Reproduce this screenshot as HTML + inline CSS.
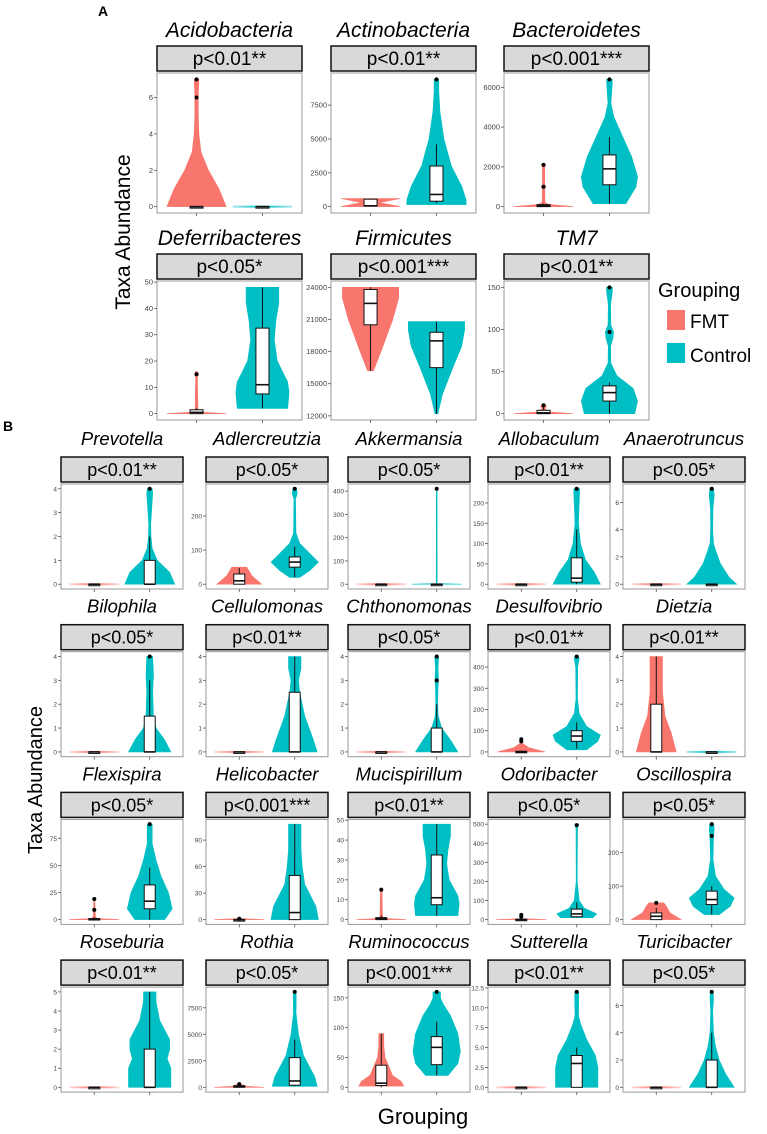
<!DOCTYPE html>
<html><head><meta charset="utf-8"><style>
html,body{margin:0;padding:0;background:#fff;}
svg{display:block;font-family:"Liberation Sans",sans-serif;}
</style></head><body>
<svg id="fig" width="767" height="1134" viewBox="0 0 767 1134" xmlns="http://www.w3.org/2000/svg">
<defs>
<linearGradient id="gF" x1="0" x2="1"><stop offset="0" stop-color="#F8766D" stop-opacity="0.25"/><stop offset="0.5" stop-color="#F8766D"/><stop offset="1" stop-color="#F8766D" stop-opacity="0.25"/></linearGradient>
<linearGradient id="gC" x1="0" x2="1"><stop offset="0" stop-color="#00BFC4" stop-opacity="0.35"/><stop offset="0.5" stop-color="#00BFC4"/><stop offset="1" stop-color="#00BFC4" stop-opacity="0.35"/></linearGradient>
</defs>
<text x="98" y="16" font-size="14" font-weight="bold">A</text>
<text x="3" y="431" font-size="14" font-weight="bold">B</text>
<text transform="translate(130,232) rotate(-90)" text-anchor="middle" font-size="21">Taxa Abundance</text>
<text transform="translate(42,780) rotate(-90)" text-anchor="middle" font-size="20">Taxa Abundance</text>
<text x="423" y="1124" text-anchor="middle" font-size="22">Grouping</text>
<g>
<text x="658" y="297" font-size="20">Grouping</text>
<rect x="667" y="310" width="18" height="20" fill="#F8766D"/>
<text x="690" y="328" font-size="19">FMT</text>
<rect x="667" y="343" width="18" height="20" fill="#00BFC4"/>
<text x="690" y="362" font-size="19">Control</text>
</g>
</svg>
<script>
const names=["Acidobacteria","Actinobacteria","Bacteroidetes","Deferribacteres","Firmicutes","TM7",
"Prevotella","Adlercreutzia","Akkermansia","Allobaculum","Anaerotruncus",
"Bilophila","Cellulomonas","Chthonomonas","Desulfovibrio","Dietzia",
"Flexispira","Helicobacter","Mucispirillum","Odoribacter","Oscillospira",
"Roseburia","Rothia","Ruminococcus","Sutterella","Turicibacter"];
const pvals=["p<0.01**","p<0.01**","p<0.001***","p<0.05*","p<0.001***","p<0.01**",
"p<0.01**","p<0.05*","p<0.05*","p<0.01**","p<0.05*",
"p<0.05*","p<0.01**","p<0.05*","p<0.01**","p<0.01**",
"p<0.05*","p<0.001***","p<0.01**","p<0.05*","p<0.05*",
"p<0.01**","p<0.05*","p<0.001***","p<0.01**","p<0.05*"];
const yRange=[[0,7],[0,9400],[0,6400],[0,48],[12200,24000],[0,150],
[0,4],[0,280],[0,410],[0,235],[0,7],
[0,4],[0,4],[0,4],[0,450],[0,4],
[0,88],[0,108],[0,48],[0,500],[0,285],
[0,5],[0,9000],[0,160],[0,12],[0,7]];
const ticks=[[0,2,4,6],[0,2500,5000,7500],[0,2000,4000,6000],[0,10,20,30,40,50],[12000,15000,18000,21000,24000],[0,50,100,150],
[0,1,2,3,4],[0,100,200],[0,100,200,300,400],[0,50,100,150,200],[0,2,4,6],
[0,1,2,3,4],[0,1,2,3,4],[0,1,2,3,4],[0,100,200,300,400],[0,1,2,3,4],
[0,25,50,75],[0,30,60,90],[0,10,20,30,40,50],[0,100,200,300,400,500],[0,100,200],
[0,1,2,3,4,5],[0,2500,5000,7500],[0,50,100,150],[0,2.5,5,7.5,10,12.5],[0,2,4,6]];
const tickLabels=ticks.map(t=>t.map(v=>(t.includes(2.5)?v.toFixed(1):String(v))));
const Z=[[0,1]];
const fmtViolin=[
[[0,1],[1,0.75],[2,0.4],[3,0.15],[4,0.08],[5,0.06],[6,0.06],[7,0.08]],
[[0,1],[300,0.3],[600,1]],
[[0,1],[100,0.2],[200,0.05],[900,0.04],[1000,0.08],[1100,0.04],[2050,0.04],[2100,0.08],[2150,0.04]],
[[0,1],[0.6,0.1],[1.5,0.05],[14,0.03],[15,0.07],[16,0.03]],
[[16200,0.1],[18000,0.35],[21000,0.75],[23000,0.95],[24000,0.95]],
[[0,1],[2,0.2],[6,0.05],[9,0.1],[11,0.05]],
Z,[[0,0.9],[25,0.5],[50,0.3]],Z,Z,Z,
Z,Z,Z,[[0,0.95],[20,0.3],[40,0.05],[55,0.05],[62,0.03]],[[0,0.8],[0.8,0.6],[1.5,0.35],[2.5,0.25],[4,0.25]],
[[0,1],[1,0.1],[3,0.04],[18,0.02],[19,0.05],[20,0.02]],[[0,1],[1,0.1],[2,0.02]],[[0,1],[0.6,0.1],[1.5,0.05],[14,0.03],[15,0.07],[16,0.03]],[[0,1],[5,0.05],[20,0.02]],[[0,1],[20,0.55],[40,0.4],[50,0.3]],
Z,[[0,1],[100,0.3],[300,0.05]],[[2,0.9],[10,0.8],[20,0.45],[35,0.3],[50,0.15],[70,0.1],[90,0.1]],Z,Z];
const ctrlViolin=[
Z,
[[150,1],[500,1],[1500,0.85],[3000,0.5],[5000,0.25],[7000,0.12],[8500,0.08],[9400,0.08]],
[[150,0.55],[1000,0.9],[1500,0.95],[2500,0.75],[3500,0.45],[4500,0.15],[5200,0.05],[5800,0.08],[6400,0.1]],
[[2,0.85],[8,0.9],[12,0.85],[20,0.5],[28,0.4],[35,0.45],[42,0.55],[48,0.55]],
[[12200,0.05],[14000,0.2],[16500,0.55],[18500,0.85],[20000,0.95],[20800,0.95]],
[[0,0.85],[15,0.95],[30,0.8],[45,0.25],[60,0.05],[80,0.04],[90,0.12],[97,0.14],[105,0.05],[130,0.04],[145,0.1],[150,0.1]],
[[0,1],[0.5,0.8],[1,0.3],[1.5,0.1],[2,0.05],[2.5,0.04],[3,0.07],[3.5,0.1],[3.8,0.12],[4,0.1]],
[[20,0.2],[40,0.6],[65,0.95],[90,0.6],[120,0.2],[150,0.05],[250,0.03],[265,0.1],[280,0.08]],
[[0,1],[3,0.02],[410,0.015]],
[[0,0.95],[30,0.7],[60,0.35],[100,0.15],[150,0.07],[200,0.1],[235,0.12]],
[[0,1],[0.5,0.7],[1.5,0.35],[2.5,0.15],[3,0.07],[4,0.04],[5.5,0.05],[6.5,0.1],[7,0.08]],
[[0,0.85],[0.5,0.6],[1,0.25],[1.5,0.15],[2.5,0.12],[3.2,0.15],[4,0.12]],
[[0,0.9],[0.5,0.75],[1.5,0.4],[2.5,0.2],[3,0.15],[3.5,0.25],[4,0.25]],
[[0,0.85],[0.5,0.55],[1,0.2],[1.5,0.06],[2,0.04],[2.7,0.05],[3,0.07],[3.5,0.05],[4,0.08]],
[[10,0.4],[50,0.85],[80,0.95],[120,0.4],[180,0.1],[250,0.03],[400,0.04],[440,0.1],[450,0.08]],
Z,
[[0,0.6],[10,0.9],[25,0.75],[40,0.45],[55,0.25],[70,0.1],[80,0.1],[88,0.1]],
[[0,0.95],[15,0.85],[40,0.4],[60,0.3],[80,0.25],[108,0.25]],
[[2,0.85],[8,0.9],[12,0.85],[20,0.5],[28,0.4],[35,0.45],[42,0.55],[48,0.55]],
[[10,0.65],[30,0.8],[60,0.3],[100,0.1],[200,0.02],[480,0.03],[500,0.08]],
[[15,0.3],[40,0.75],[65,0.9],[90,0.5],[130,0.15],[180,0.05],[240,0.07],[270,0.1],[285,0.08]],
[[0,0.85],[1,0.85],[1.5,0.7],[2,0.8],[2.5,0.8],[3.5,0.4],[4.5,0.25],[5,0.25]],
[[100,0.9],[1000,0.8],[3000,0.35],[5000,0.15],[7000,0.05],[8500,0.06],[9000,0.05]],
[[20,0.45],[40,0.85],[60,0.95],[90,0.85],[120,0.55],[140,0.25],[150,0.15],[160,0.15]],
[[0,0.85],[2.5,0.85],[4,0.75],[6,0.4],[8,0.15],[9,0.07],[11,0.08],[12,0.08]],
[[0,0.9],[1,0.55],[2,0.3],[3,0.15],[4,0.07],[5.5,0.04],[6.5,0.07],[7,0.06]]];
const fmtBox=[[0,0,0,0,0],[0,50,60,550,600],[0,0,50,100,150],[0,0,0.5,1.5,2],[16200,20500,22500,23800,24000],[0,0,1,4,8],
[0,0,0,0,0],[0,0,10,30,48],[0,0,0,0,0],[0,0,0,0,0],[0,0,0,0,0],
[0,0,0,0,0],[0,0,0,0,0],[0,0,0,0,0],[0,0,0,3,6],[0,0,0,2,4],
[0,0,0,1,2],[0,0,0,0,0],[0,0,0.5,1,2],[0,0,0,2,5],[0,0,10,20,35],
[0,0,0,0,0],[0,20,50,150,250],[0,3,7,37,90],[0,0,0,0,0],[0,0,0,0,0]];
const ctrlBox=[[0,0,0,0,0],[250,400,900,3000,4600],[150,1100,1900,2600,3500],[2,7.5,11,32.5,48],[12200,16500,19000,19800,20800],[0,15,25,33,37],
[0,0,0,1,2],[20,50,65,80,110],[0,0,0,0,0],[0,5,15,65,135],[0,0,0,0,0],
[0,0,0,1.5,3],[0,0,0,2.5,4],[0,0,0,1,2],[15,50,75,100,140],[0,0,0,0,0],
[0,10,17,32,48],[0,0,8,50,108],[2,7.5,11,32.5,48],[10,15,30,55,90],[15,45,60,85,100],
[0,0,0,2,5],[100,200,600,2800,4500],[20,38,67,85,110],[0,0,3,4,5],[0,0,0,2,4]];
const fmtOut=[[6,7],[],[1000,2100],[15],[],[10],[],[],[],[],[],[],[],[],[50,60],[],[9,19],[1],[15],[15,25],[50],[],[300],[],[],[]];
const ctrlOut=[[],[9400],[6400],[],[],[97,150],[4],[280],[410],[235],[7],[4],[],[3,4],[450],[],[88],[],[],[495],[250,285],[],[9000],[160],[12],[7]];

const svg=document.getElementById('fig');
const NS='http://www.w3.org/2000/svg';
function mk(tag,attrs,parent){const e=document.createElementNS(NS,tag);for(const k in attrs)e.setAttribute(k,attrs[k]);(parent||svg).appendChild(e);return e;}
function layout(i){
  if(i<6){const c=i%3,r=Math.floor(i/3);
    return {x:[157,331,504][c],w:145,sy:[46,254][r],sh:25,py:[73,281][r],ph:[140,139][r],big:true};}
  const j=i-6,c=j%5,r=Math.floor(j/5);
  return {x:[61,206,348,488,623][c],w:122,sy:457+r*167.7,sh:25,py:484+r*167.7,ph:105,big:false};
}
function slug(s){return s.toLowerCase();}
for(let i=0;i<names.length;i++){
  const L=layout(i);
  const g=mk('g',{});
  
  
  const t=mk('text',{x:L.x+L.w/2,y:L.sy-(L.big?9:12),'text-anchor':'middle','font-size':L.big?21:18.5,'font-style':'italic'},g);
  t.textContent=names[i];
  
  
  const st=mk('rect',{x:L.x,y:L.sy,width:L.w,height:L.sh,fill:'#d9d9d9',stroke:'#111','stroke-width':1.5},g);
  
  
  const pt=mk('text',{x:L.x+L.w/2,y:L.sy+19,'text-anchor':'middle','font-size':L.big?19:18},g);
  pt.textContent=pvals[i];
  
  
  const pb=mk('rect',{x:L.x,y:L.py,width:L.w,height:L.ph,fill:'#fff',stroke:'#999','stroke-width':1},g);
  
  
  const lo=yRange[i][0],hi=yRange[i][1],rg=hi-lo;
  const d0=lo-0.05*rg,d1=hi+0.05*rg;
  const Y=v=>L.py+L.ph-(v-d0)/(d1-d0)*L.ph;
  const X=k=>L.x+L.w*(k===0?0.6/2.2:1.6/2.2);
  const HW=0.45/2.2*L.w;
  ticks[i].forEach((v,k)=>{
    if(v<d0||v>d1+1e-9)return;
    const y=Y(v);
    const tk=mk('line',{x1:L.x-3,x2:L.x,y1:y,y2:y,stroke:'#555','stroke-width':0.8},g);
    
    
    const tl=mk('text',{x:L.x-4,y:y+2.5,'text-anchor':'end','font-size':L.big?7.5:6.5,fill:'#444'},g);
    tl.textContent=tickLabels[i][k];
    
    
  });
  [0,1].forEach(k=>{
    const xt=mk('line',{x1:X(k),x2:X(k),y1:L.py+L.ph,y2:L.py+L.ph+3,stroke:'#555','stroke-width':0.8},g);
    
    
  });
  [[fmtViolin,fmtBox,fmtOut,'#F8766D','url(#gF)','fmt'],[ctrlViolin,ctrlBox,ctrlOut,'#00BFC4','url(#gC)','control']].forEach((S,k)=>{
    const pts=S[0][i],cx=X(k);
    if(pts.length===1){
      const ln=mk('rect',{x:cx-HW*pts[0][1],y:Y(pts[0][0])-1,width:2*HW*pts[0][1],height:2,fill:S[4]},g);
      
      
    }else{
      let d='';
      pts.forEach((p,n)=>{d+=(n?'L':'M')+(cx+HW*p[1]).toFixed(1)+','+Y(p[0]).toFixed(1);});
      for(let n=pts.length-1;n>=0;n--){const p=pts[n];d+='L'+(cx-HW*p[1]).toFixed(1)+','+Y(p[0]).toFixed(1);}
      const vp=mk('path',{d:d+'Z',fill:S[3],stroke:S[3],'stroke-width':0.6},g);
      
      
    }
    const b=S[1][i],bw=0.045*L.w;
    const bg=mk('g',{},g);
    
    
    mk('line',{x1:cx,x2:cx,y1:Y(b[0]),y2:Y(b[4]),stroke:'#111','stroke-width':1},bg);
    const h=Math.max(Y(b[1])-Y(b[3]),1.5);
    mk('rect',{x:cx-bw,y:Y(b[3]),width:2*bw,height:h,fill:'#fff',stroke:'#111','stroke-width':1},bg);
    mk('line',{x1:cx-bw,x2:cx+bw,y1:Y(b[2]),y2:Y(b[2]),stroke:'#111','stroke-width':1.6},bg);
    S[2][i].forEach(v=>{
      const c=mk('circle',{cx:cx,cy:Y(v),r:2,fill:'#000'},g);
      
      
    });
  });
}
</script>
</body></html>
